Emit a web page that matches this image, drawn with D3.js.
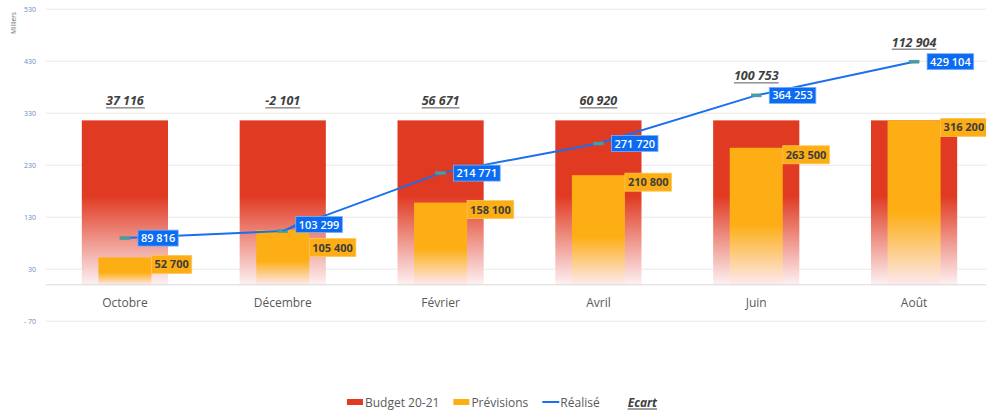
<!DOCTYPE html>
<html>
<head>
<meta charset="utf-8">
<title>Budget / Prévisions / Réalisé</title>
<script src="https://d3js.org/d3.v7.min.js"></script>
<style>
    html, body {
        margin: 0;
        padding: 0;
        background: white;
        font-family: 'Open Sans', 'Noto Sans', sans-serif;
    }
    svg { display: block; }
    text { font-family: 'Open Sans', 'Noto Sans', sans-serif; }
</style>
</head>
<body>
<div id="chart"></div>
<script>

//DATA
const months    = ['Octobre', 'Décembre', 'Février', 'Avril', 'Juin', 'Août']
const budget    = [316200, 316200, 316200, 316200, 316200, 316200]
const previsions = [52700, 105400, 158100, 210800, 263500, 316200]
const realise   = [89816, 103299, 214771, 271720, 364253, 429104]
const ecart     = [37116, -2101, 56671, 60920, 100753, 112904]
const yTicks    = [-70, 30, 130, 230, 330, 430, 530]
const yTickText = ['- 70', '30', '130', '230', '330', '430', '530']
const legendItems = ['Budget 20-21', 'Prévisions', 'Réalisé', 'Ecart']

//SETUP
const W = 986, H = 412
const red = '#e03a22', orange = '#fdae14', blue = '#1a6ff0'
const fmt = v => d3.format(',')(v).replace(/,/g, ' ').replace('\u2212', '-')

const svg = d3.select('#chart').append('svg')
    .attr('width', W).attr('height', H)

const x = d3.scaleBand().domain(months).range([46, 993])
const y = d3.scaleLinear().domain([-70, 530]).range([321.2, 9.2])

const defs = svg.append('defs')
function fade(id, col, solid, bottom){
    let g = defs.append('linearGradient').attr('id', id)
        .attr('x1', 0).attr('y1', 0).attr('x2', 0).attr('y2', 1)
    g.append('stop').attr('offset', 0).attr('stop-color', col)
    g.append('stop').attr('offset', solid).attr('stop-color', col)
    g.append('stop').attr('offset', 1).attr('stop-color', bottom)
}
fade('gRed', red, 0.46, '#fdf1f3')
fade('gOrange', orange, 0.56, '#fde9ef')

//GRID + AXES
const gridX0 = 46, gridX1 = 990
svg.append('g').selectAll('line').data(yTicks).join('line')
    .attr('x1', gridX0).attr('x2', gridX1)
    .attr('y1', d => y(d)).attr('y2', d => y(d))
    .attr('stroke', '#e8e8e8').attr('stroke-width', 1)

const yAxis = svg.append('g').attr('transform', 'translate(36,0)')
    .call(d3.axisLeft(y).tickValues(yTicks).tickSize(0).tickPadding(0)
        .tickFormat((d, i) => yTickText[i]))
yAxis.select('.domain').remove()
yAxis.selectAll('text').attr('fill', '#6b8ac6').style('font-size', '7px')

svg.append('text')
    .attr('transform', 'translate(16,23) rotate(-90)')
    .attr('text-anchor', 'middle')
    .attr('fill', '#707070').style('font-size', '6.5px')
    .text('Milliers')

//BARS
const bw = x.bandwidth()
const cx = m => x(m) + bw / 2

svg.append('g').selectAll('rect').data(months).join('rect')
    .attr('x', m => cx(m) - bw * 0.273)
    .attr('width', bw * 0.546)
    .attr('y', (m, i) => y(budget[i] / 1000))
    .attr('height', (m, i) => y(0) - y(budget[i] / 1000))
    .attr('fill', 'url(#gRed)')

svg.append('g').selectAll('rect').data(months).join('rect')
    .attr('x', m => cx(m) - bw * 0.168)
    .attr('width', bw * 0.336)
    .attr('y', (m, i) => y(previsions[i] / 1000))
    .attr('height', (m, i) => y(0) - y(previsions[i] / 1000))
    .attr('fill', 'url(#gOrange)')

//baseline
svg.append('line')
    .attr('x1', gridX0).attr('x2', gridX1)
    .attr('y1', y(0)).attr('y2', y(0))
    .attr('stroke', '#d9d9d9').attr('stroke-width', 1)

//X LABELS
svg.append('g').selectAll('text').data(months).join('text')
    .attr('x', m => cx(m)).attr('y', y(0) + 22)
    .attr('text-anchor', 'middle')
    .attr('fill', '#595959').style('font-size', '12px')
    .text(m => m)

//LINE
const line = d3.line()
    .x((d, i) => cx(months[i]))
    .y(d => y(d / 1000))
svg.append('path').datum(realise)
    .attr('d', line)
    .attr('fill', 'none').attr('stroke', blue).attr('stroke-width', 2)

svg.append('g').selectAll('rect').data(realise).join('rect')
    .attr('x', (d, i) => cx(months[i]) - 5)
    .attr('y', d => y(d / 1000) - 1.5)
    .attr('width', 10).attr('height', 3)
    .attr('fill', '#3aa3a8').attr('stroke', '#5c8c96').attr('stroke-width', 0.5)

//LABEL BOXES (measure, then untangle)
const tmp = svg.append('g')
function measure(str, size, weight){
    let t = tmp.append('text').style('font-size', size).style('font-weight', weight).text(str)
    let w = t.node().getComputedTextLength()
    t.remove()
    return w
}

let boxes = months.map((m, i) => {
    let bx = cx(m) + bw * 0.168
    let by = y(previsions[i] / 1000) - 2
    let bl = cx(m) + 13
    let ry = y(realise[i] / 1000)
    let p = { x: bx, y: by, w: measure(fmt(previsions[i]), '11px', 700) + 6, h: 18, txt: fmt(previsions[i]) }
    let r = { x: bl, y: ry - 8, w: measure(fmt(realise[i]), '11px', 600) + 6, h: 16,
              px: cx(m), py: ry, txt: fmt(realise[i]) }
    // push apart when the two labels overlap
    let overlapX = r.x < p.x + p.w && p.x < r.x + r.w
    let overlapY = r.y < p.y + p.h && p.y < r.y + r.h
    if (overlapX && overlapY) {
        let need = (r.y < p.y ? (r.y + r.h) - p.y : (p.y + p.h) - r.y) + 6
        if (r.y <= p.y) { r.y -= need * 0.38; p.y += need * 0.62 }
        else { r.y += need * 0.5; p.y -= need * 0.5 }
        r.moved = true
    }
    return { p, r }
})
tmp.remove()

//prévisions labels
const pl = svg.append('g').selectAll('g').data(boxes).join('g')
pl.append('rect')
    .attr('x', d => d.p.x).attr('y', d => d.p.y)
    .attr('width', d => d.p.w).attr('height', d => d.p.h)
    .attr('fill', orange).attr('stroke', '#fcc75a').attr('stroke-width', 0.8)
pl.append('text')
    .attr('x', d => d.p.x + 3).attr('y', d => d.p.y + d.p.h / 2 + 4)
    .attr('fill', '#3d3d3d').style('font-size', '11px').style('font-weight', 700)
    .text(d => d.p.txt)

//réalisé labels
const rl = svg.append('g').selectAll('g').data(boxes).join('g')
rl.filter(d => d.r.moved).append('line')
    .attr('x1', d => d.r.px).attr('y1', d => d.r.py)
    .attr('x2', d => d.r.x).attr('y2', d => d.r.y + d.r.h / 2)
    .attr('stroke', blue).attr('stroke-width', 1.5)
rl.append('rect')
    .attr('x', d => d.r.x).attr('y', d => d.r.y)
    .attr('width', d => d.r.w).attr('height', d => d.r.h)
    .attr('fill', '#0b6bf2').attr('stroke', '#7fb0f7').attr('stroke-width', 0.8)
rl.append('text')
    .attr('x', d => d.r.x + 3).attr('y', d => d.r.y + d.r.h / 2 + 4)
    .attr('fill', 'white').style('font-size', '11px').style('font-weight', 600)
    .text(d => d.r.txt)

//ECART labels
const el = svg.append('g').selectAll('g').data(months).join('g')
el.append('text')
    .attr('x', m => cx(m)).attr('y', (m, i) => y(Math.max(budget[i], realise[i]) / 1000) - 15)
    .attr('text-anchor', 'middle')
    .attr('fill', '#404040').style('font-size', '12.5px')
    .style('font-weight', 700).style('font-style', 'italic')
    .text((m, i) => fmt(ecart[i]))
el.each(function(m, i){
    let t = d3.select(this).select('text')
    let bb = t.node().getBBox()
    d3.select(this).append('line')
        .attr('x1', bb.x).attr('x2', bb.x + bb.width)
        .attr('y1', +t.attr('y') + 2.5).attr('y2', +t.attr('y') + 2.5)
        .attr('stroke', '#595959').attr('stroke-width', 1)
})

//LEGEND
const lg = svg.append('g')
let lx = 0
legendItems.forEach((name, i) => {
    let g = lg.append('g').attr('transform', 'translate(' + lx + ',0)')
    let off = 0
    if (i === 0 || i === 1) {
        g.append('rect').attr('x', 0).attr('y', -3).attr('width', 16).attr('height', 6)
            .attr('fill', i === 0 ? red : orange)
        off = 18
    } else if (i === 2) {
        g.append('line').attr('x1', 0).attr('x2', 17).attr('y1', 0).attr('y2', 0)
            .attr('stroke', blue).attr('stroke-width', 2)
        off = 18
    } else {
        off = 14
    }
    let t = g.append('text').attr('x', off).attr('y', 4.5)
        .attr('fill', i === 3 ? '#404040' : '#595959').style('font-size', '12px')
        .text(name)
    if (i === 3) {
        t.style('font-weight', 700).style('font-style', 'italic')
        let w = t.node().getComputedTextLength()
        g.append('line').attr('x1', off).attr('x2', off + w)
            .attr('y1', 7).attr('y2', 7).attr('stroke', '#404040').attr('stroke-width', 1)
    }
    lx += off + t.node().getComputedTextLength() + 14
})
lg.attr('transform', 'translate(' + (502 - (lx - 14) / 2) + ',402)')

</script>
</body>
</html>
